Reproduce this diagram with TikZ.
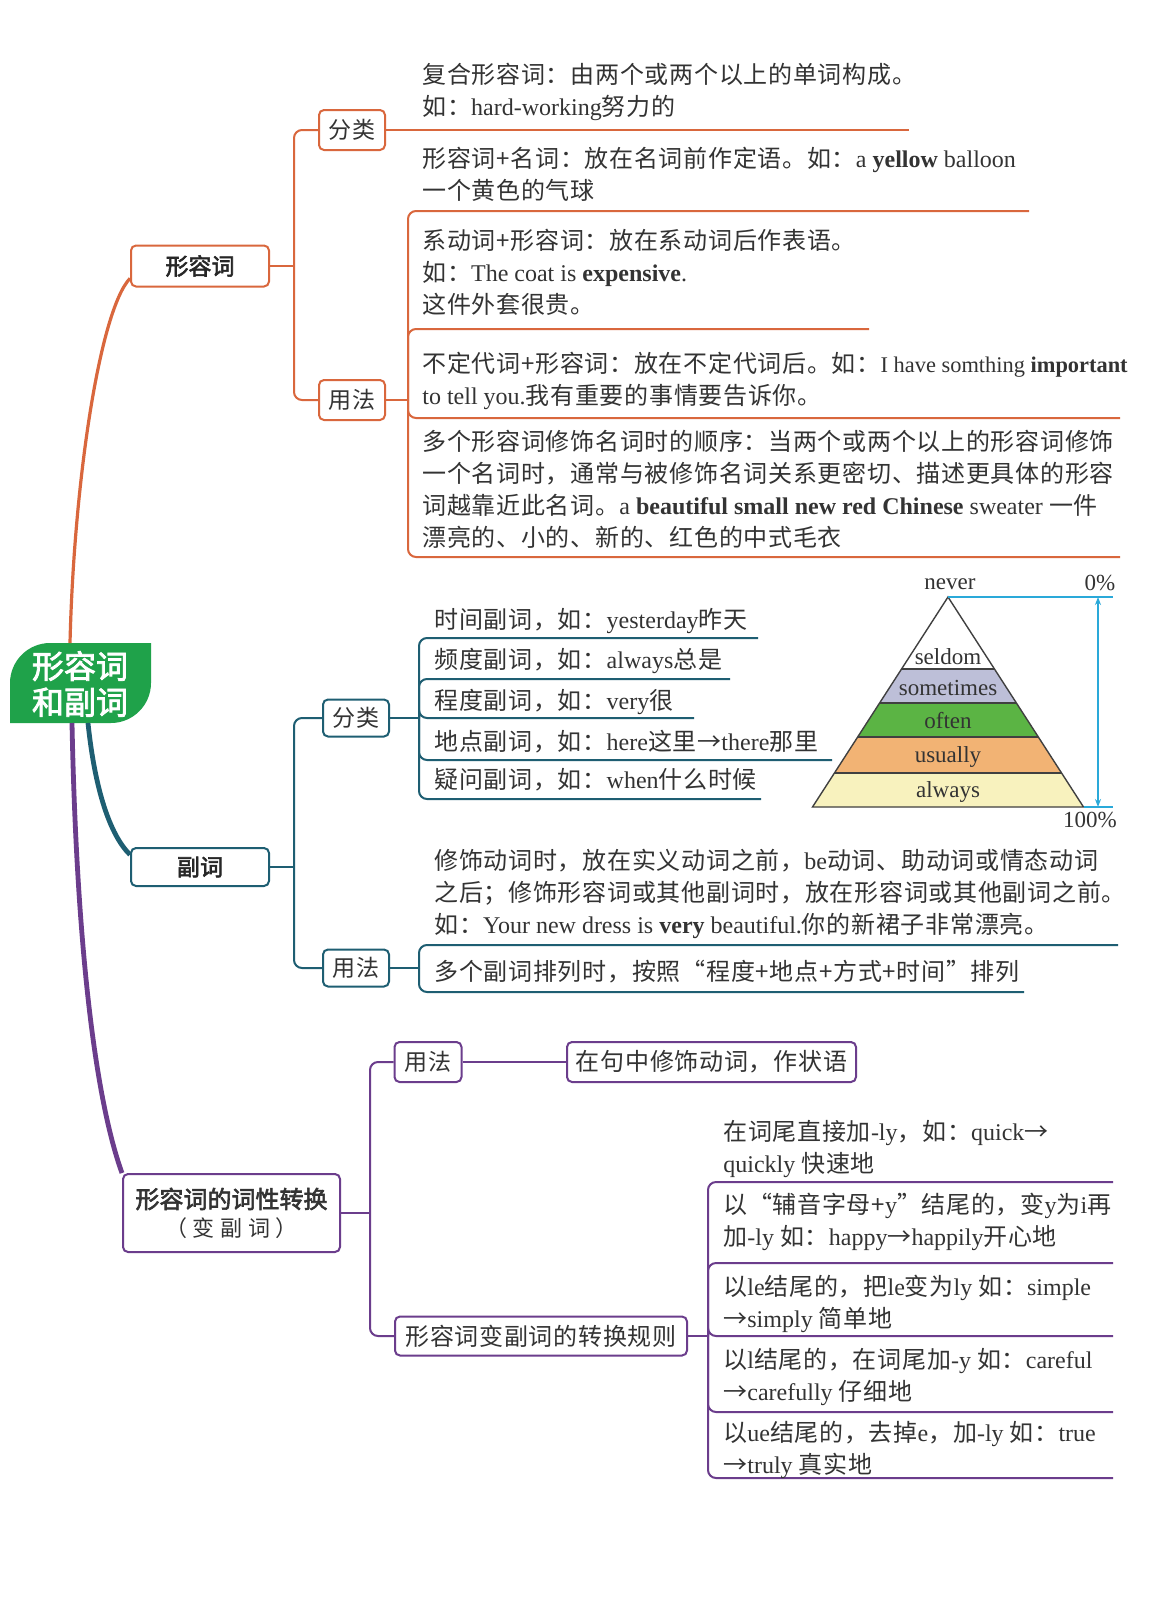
\documentclass[tikz,border=0pt]{standalone}
\usepackage{fontspec}
\setmainfont[LetterSpace=3]{Noto Sans CJK SC}
\newfontfamily\hei[FakeBold=2.5]{Noto Sans CJK SC}
\newfontfamily\en{Liberation Serif}
\usetikzlibrary{arrows.meta}
\definecolor{adjcol}{HTML}{D9673D}
\definecolor{advcol}{HTML}{1E5E72}
\definecolor{cvtcol}{HTML}{6B3D8C}
\definecolor{rootcol}{HTML}{1FA24A}
\definecolor{pyrcyan}{HTML}{2AA9D9}
\definecolor{bandgrey}{HTML}{BDBFD8}
\definecolor{bandgreen}{HTML}{5BB444}
\definecolor{bandorange}{HTML}{F2B374}
\definecolor{bandyellow}{HTML}{F8F2BE}
\definecolor{txtgray}{HTML}{333333}
\begin{document}
\begin{tikzpicture}[x=0.5pt,y=-0.5pt,
  box/.style={draw,rounded corners=2.5pt,line width=1pt,fill=white,inner sep=0pt,text=txtgray,font=\fontsize{11.5}{14}\selectfont},
  head/.style={box,text=black!85,font=\hei\fontsize{11.5}{14}\selectfont},
  txt/.style={anchor=north west,inner sep=0pt,align=left,text=txtgray,font=\fontsize{12}{16}\selectfont},
  link/.style={line width=1pt,rounded corners=4pt},
  trunk/.style={line width=2pt},
  band/.style={inner sep=0pt,text=txtgray,font=\en\fontsize{11.5}{13}\selectfont}]

\fill[white] (0,0) rectangle (1156,1601);
\useasboundingbox (0,0) rectangle (1156,1601);

\fill[rootcol] (10,723) -- (10,683) .. controls (10,661) and (28,643) .. (50,643) -- (151,643)
  -- (151,683) .. controls (151,705) and (133,723) .. (111,723) -- cycle;
\node[text=white,align=center,font=\hei\fontsize{16}{18}\selectfont] (root) at (80,684) {形容词\\和副词};
\coordinate (roottop) at (70,643);
\coordinate (rootbotl) at (72,723);
\coordinate (rootbotr) at (88,723);

\node[head,draw=adjcol,minimum width=69pt,minimum height=20.5pt] (adj) at (200,266) {形容词};
\node[box,draw=adjcol,minimum width=33pt,minimum height=20pt] (adjfl) at (352,130) {分类};
\node[box,draw=adjcol,minimum width=33pt,minimum height=20pt] (adjyf) at (352,400) {用法};

\node[head,draw=advcol,minimum width=69pt,minimum height=19pt] (adv) at (200,867) {副词};
\node[box,draw=advcol,minimum width=33pt,minimum height=18.5pt] (advfl) at (356,718) {分类};
\node[box,draw=advcol,minimum width=33pt,minimum height=18.5pt] (advyf) at (356,968) {用法};

\node[box,draw=cvtcol,minimum width=108.5pt,minimum height=39pt,align=center] (cvt) at (231.5,1213)
  {{\hei\fontsize{12}{16}\selectfont 形容词的词性转换}\\{\fontsize{11}{15}\selectfont （ 变 副 词 ）}};
\node[box,draw=cvtcol,minimum width=33.5pt,minimum height=20pt] (cvtyf) at (428,1062) {用法};
\node[box,draw=cvtcol,minimum width=144.5pt,minimum height=20pt,font=\fontsize{12}{14}\selectfont] (cvtuse) at (711.5,1062) {在句中修饰动词，作状语};
\node[box,draw=cvtcol,minimum width=146pt,minimum height=19.5pt,font=\fontsize{12}{14}\selectfont] (cvtrule) at (541,1336) {形容词变副词的转换规则};

\draw[trunk,adjcol,line width=1.6pt] (roottop) .. controls (74,480) and (100,310) .. (adj.190);
\draw[trunk,advcol,line width=2.4pt] (rootbotr) .. controls (95,790) and (110,835) .. (adv.170);
\draw[trunk,cvtcol,line width=2.4pt] (rootbotl) .. controls (76,920) and (92,1090) .. (cvt.north west);

\coordinate (adjsp) at (294,266);
\draw[link,adjcol] (adj.east) -- (adjsp);
\draw[link,adjcol] (adjfl.west) -| (adjsp) |- (adjyf.west);
\coordinate (a1) at (909,130);
\draw[link,adjcol] (adjfl.east) -- (a1);
\coordinate (adjyj) at (408,400);
\coordinate (a2) at (1029,211);
\coordinate (a3) at (869,329);
\coordinate (a4) at (1120,418);
\coordinate (a5) at (1120,557);
\draw[link,adjcol] (adjyf.east) -- (adjyj);
\foreach \e in {a2,a3,a4,a5}
  \draw[link,adjcol] (adjyj) |- (\e);

\node[txt] (a1t) at (422,63) {复合形容词：由两个或两个以上的单词构成。\\如：{\en hard-working}努力的};
\node[txt] (a2t) at (422,147) {形容词+名词：放在名词前作定语。如：{\en a \textbf{yellow} balloon}\\一个黄色的气球};
\node[txt] (a3t) at (422,229) {系动词+形容词：放在系动词后作表语。\\如：{\en The coat is \textbf{expensive}.}\\这件外套很贵。};
\node[txt] (a4t) at (422,352) {不定代词+形容词：放在不定代词后。如：{\en\fontsize{11.2}{16}\selectfont I have somthing \textbf{important}}\\{\en to tell you.}我有重要的事情要告诉你。};
\node[txt] (a5t) at (422,430) {多个形容词修饰名词时的顺序：当两个或两个以上的形容词修饰\\一个名词时，通常与被修饰名词关系更密切、描述更具体的形容\\词越靠近此名词。{\en a \textbf{beautiful small new red Chinese} sweater} 一件\\漂亮的、小的、新的、红色的中式毛衣};

\coordinate (advsp) at (294,867);
\draw[link,advcol] (adv.east) -- (advsp);
\draw[link,advcol] (advfl.west) -| (advsp) |- (advyf.west);
\coordinate (advfj) at (419,718);
\coordinate (b1) at (758,638);
\coordinate (b2) at (730,679);
\coordinate (b3) at (694,718);
\coordinate (b4) at (832,760);
\coordinate (b5) at (761,799);
\draw[link,advcol] (advfl.east) -- (advfj);
\foreach \e in {b1,b2,b3,b4,b5}
  \draw[link,advcol] (advfj) |- (\e);
\coordinate (advyj) at (419,968);
\coordinate (c1) at (1118,945);
\coordinate (c2) at (1024,992);
\draw[link,advcol] (advyf.east) -- (advyj);
\foreach \e in {c1,c2}
  \draw[link,advcol] (advyj) |- (\e);

\node[txt] (b1t) at (434,608) {时间副词，如：{\en yesterday}昨天};
\node[txt] (b2t) at (434,648) {频度副词，如：{\en always}总是};
\node[txt] (b3t) at (434,689) {程度副词，如：{\en very}很};
\node[txt] (b4t) at (434,730) {地点副词，如：{\en here}这里→{\en there}那里};
\node[txt] (b5t) at (434,768) {疑问副词，如：{\en when}什么时候};
\node[txt] (c1t) at (434,849) {修饰动词时，放在实义动词之前，{\en be}动词、助动词或情态动词\\之后；修饰形容词或其他副词时，放在形容词或其他副词之前。\\如：{\en Your new dress is \textbf{very} beautiful.}你的新裙子非常漂亮。};
\node[txt] (c2t) at (434,960) {多个副词排列时，按照“程度+地点+方式+时间”排列};

\coordinate (apex) at (948,597);
\coordinate (pl) at (812.5,807);
\coordinate (pr) at (1083.5,807);
\foreach \ya/\yb/\col in {669/703/bandgrey,703/737/bandgreen,737/773/bandorange,773/807/bandyellow}
  \fill[\col] ({948-0.6452*(\ya-597)},\ya) -- ({948+0.6452*(\ya-597)},\ya)
    -- ({948+0.6452*(\yb-597)},\yb) -- ({948-0.6452*(\yb-597)},\yb) -- cycle;
\foreach \y in {669,703,737,773}
  \draw[line width=0.7pt,black!75] ({948-0.6452*(\y-597)},\y) -- ({948+0.6452*(\y-597)},\y);
\draw[line width=0.7pt,black!75] (apex) -- (pl) -- (pr) -- cycle;
\node[band] (seldom) at (948,657) {seldom};
\node[band] (sometimes) at (948,688) {sometimes};
\node[band] (often) at (948,721) {often};
\node[band] (usually) at (948,757) {usually};
\node[band] (always) at (948,792) {always};
\node[band] (never) at (950,584) {never};
\node[band] (pzero) at (1100,583) {0\%};
\node[band] (pfull) at (1090,820) {100\%};
\coordinate (cyantop) at (1113,597);
\coordinate (cyanbot) at (1113,807);
\coordinate (arrtop) at (1098,597);
\coordinate (arrbot) at (1098,807);
\draw[pyrcyan,line width=0.8pt] (apex) -- (cyantop);
\draw[pyrcyan,line width=0.8pt] (pr) -- (cyanbot);
\draw[pyrcyan,line width=0.8pt,{Stealth[length=4pt,width=3pt]}-{Stealth[length=4pt,width=3pt]}] (arrtop) -- (arrbot);

\coordinate (cvtsp) at (370,1213);
\draw[link,cvtcol] (cvt.east) -- (cvtsp);
\draw[link,cvtcol] (cvtyf.west) -| (cvtsp) |- (cvtrule.west);
\draw[link,cvtcol] (cvtyf.east) -- (cvtuse.west);
\coordinate (cvtj) at (708,1336);
\coordinate (d1) at (1113,1182);
\coordinate (d2) at (1113,1263);
\coordinate (d3) at (1113,1336);
\coordinate (d4) at (1113,1412);
\coordinate (d5) at (1113,1478);
\draw[link,cvtcol] (cvtrule.east) -- (cvtj);
\foreach \e in {d1,d2,d3,d4,d5}
  \draw[link,cvtcol] (cvtj) |- (\e);

\node[txt] (d1t) at (723,1120) {在词尾直接加{\en -ly}，如：{\en quick}→\\{\en quickly} 快速地};
\node[txt] (d2t) at (723,1193) {以“辅音字母+{\en y}”结尾的，变{\en y}为{\en i}再\\加{\en -ly} 如：{\en happy}→{\en happily}开心地};
\node[txt] (d3t) at (723,1275) {以{\en le}结尾的，把{\en le}变为{\en ly} 如：{\en simple}\\→{\en simply} 简单地};
\node[txt] (d4t) at (723,1348) {以{\en l}结尾的，在词尾加{\en -y} 如：{\en careful}\\→{\en carefully} 仔细地};
\node[txt] (d5t) at (723,1421) {以{\en ue}结尾的，去掉{\en e}，加{\en -ly} 如：{\en true}\\→{\en truly} 真实地};

\end{tikzpicture}
\end{document}
